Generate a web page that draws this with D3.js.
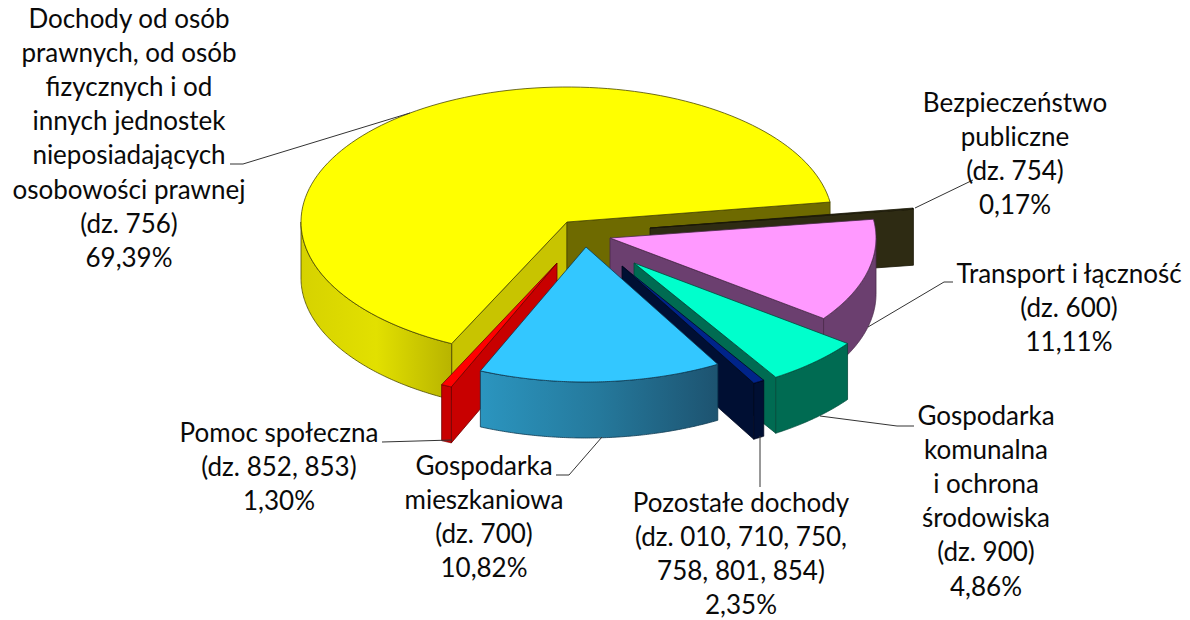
<!DOCTYPE html>
<html><head><meta charset="utf-8">
<script src="https://cdn.jsdelivr.net/npm/d3@7/dist/d3.min.js"></script>
<style>html,body{margin:0;padding:0;background:#fff}svg{display:block}text{font-family:Lato,"Open Sans",sans-serif;fill:#0a0a0a}</style>
</head><body><svg id="c" width="1190" height="620"></svg>
<script>
// Data
const categories = ["Dochody (dz. 756)","Bezpieczeństwo (dz. 754)","Transport (dz. 600)","Gospodarka komunalna (dz. 900)","Pozostałe (dz. 010...)","Gospodarka mieszkaniowa (dz. 700)","Pomoc społeczna (dz. 852, 853)"];
const shares = [69.39,0.17,11.11,4.86,2.35,10.82,1.30];
const labelLines = [
 ["Dochody od osób","prawnych, od osób","fizycznych i od","innych jednostek","nieposiadających","osobowości prawnej","(dz. 756)","69,39%"],
 ["Bezpieczeństwo","publiczne","(dz. 754)","0,17%"],
 ["Transport i łączność","(dz. 600)","11,11%"],
 ["Gospodarka","komunalna","i ochrona","środowiska","(dz. 900)","4,86%"],
 ["Pozostałe dochody","(dz. 010, 710, 750,","758, 801, 854)","2,35%"],
 ["Gospodarka","mieszkaniowa","(dz. 700)","10,82%"],
 ["Pomoc społeczna","(dz. 852, 853)","1,30%"]
];
// Styles per slice
const topFill  = ["#ffff00","#2e2b13","#ff99ff","#00ffcc","#00248a","#33c7ff","#ff0000"];
const cutFill  = ["#6e6a00","#2e2b13","#6b3f6f","#006b52","#000f33","#1d5370","#c80000"];
const startCutFill = ["#c8c400","#2e2b13","#6b3f6f","#006b52","#000f33","#1d5370","#c80000"];
const rimStops = [["#d6d200","#e2e000","#b8b400"],["#2e2b13","#2e2b13","#2e2b13"],["#6b3f6f","#6b3f6f","#6b3f6f"],["#006b52","#006b52","#006b52"],["#000f33","#000f33","#000f33"],["#2b95bf","#25799c","#1d5370"],["#c80000","#c80000","#c80000"]];
const edgeColor = ["#4a4800","#1a1808","#4a2a4a","#004a3a","#000820","#0e3a52","#700000"];
// Layout
const centre = [567,222], rx = 266, ry = 135, depth = 56;
const explode = [[0,0],[83,6],[43,16],[67,41],[55,44],[19,25],[-10,41]];
const projected = [205.7,441.5,442,486.6,507.8,510.3,563.4,565.7];
const paintOrder = [0,1,2,3,4,6,5];
const labelX = [129,1015,1069,986,741,484,279];
const labelY = [28,112,283,425,512,475,442];
const lineStep = 34.1;
const leaders = [
 [[230,164],[243,164],[410,113]],
 [[915,208],[973,180]],
 [[868,327],[944,282],[953,282]],
 [[820,416],[897,426],[914,426]],
 [[760,436],[760,487]],
 [[602,437],[569,475],[556,475]],
 [[452,440],[382,442]]
];

const svg = d3.select("#c"), defs = svg.append("defs");
const pie = d3.pie().sort(null).startAngle(0).endAngle(2*Math.PI)(shares);
const knots = [0,...pie.map(d=>d.endAngle)];
const angleScale = d3.scaleLinear().domain(knots).range(projected);
const rad = d=>d*Math.PI/180;
const line = d3.line();

paintOrder.forEach(i=>{
  const d = pie[i];
  const [ax,ay] = [centre[0]+explode[i][0], centre[1]+explode[i][1]];
  const t0 = angleScale(d.startAngle), t1 = angleScale(d.endAngle);
  const P = t=>[ax+rx*Math.sin(rad(t)), ay-ry*Math.cos(rad(t))];
  const down = p=>[p[0],p[1]+depth];
  const arcPts = (a,b)=>d3.range(0,121).map(k=>P(a+(b-a)*k/120));
  const g = svg.append("g").attr("data-cat",categories[i]);
  const draw = (pts,fill)=>g.append("path").attr("d",line(pts)+"Z").attr("fill",fill).attr("stroke",edgeColor[i]).attr("stroke-width",0.8).attr("stroke-linejoin","round");
  // visible cut faces
  if (Math.sin(rad(t0))<0) draw([[ax,ay],P(t0),down(P(t0)),[ax,ay+depth]],startCutFill[i]);
  if (Math.sin(rad(t1))>0) draw([[ax,ay],P(t1),down(P(t1)),[ax,ay+depth]],cutFill[i]);
  // outer rim: the part of the arc on the viewer's side
  const k0 = 360*Math.floor(t0/360);
  const a = Math.max(t0,k0+90), b = Math.min(t1,k0+270);
  if (b>a){
    const pts = arcPts(a,b);
    const id = "rim"+i, xs = d3.extent(pts,p=>p[0]);
    const gr = defs.append("linearGradient").attr("id",id).attr("gradientUnits","userSpaceOnUse")
      .attr("x1",xs[0]).attr("x2",xs[1]).attr("y1",0).attr("y2",0);
    rimStops[i].forEach((c,j)=>gr.append("stop").attr("offset",j/2).attr("stop-color",c));
    draw(pts.concat(pts.map(down).reverse()),`url(#${id})`);
  }
  // top
  draw([[ax,ay],...arcPts(t0,t1)],topFill[i]);
});

leaders.forEach(l=>svg.append("path").attr("d",line(l)).attr("fill","none").attr("stroke","#333").attr("stroke-width",1));
labelLines.forEach((ls,i)=>ls.forEach((s,j)=>svg.append("text")
  .attr("x",labelX[i]).attr("y",labelY[i]+j*lineStep).attr("text-anchor","middle")
  .attr("font-size",26).text(s)));
</script></body></html>
